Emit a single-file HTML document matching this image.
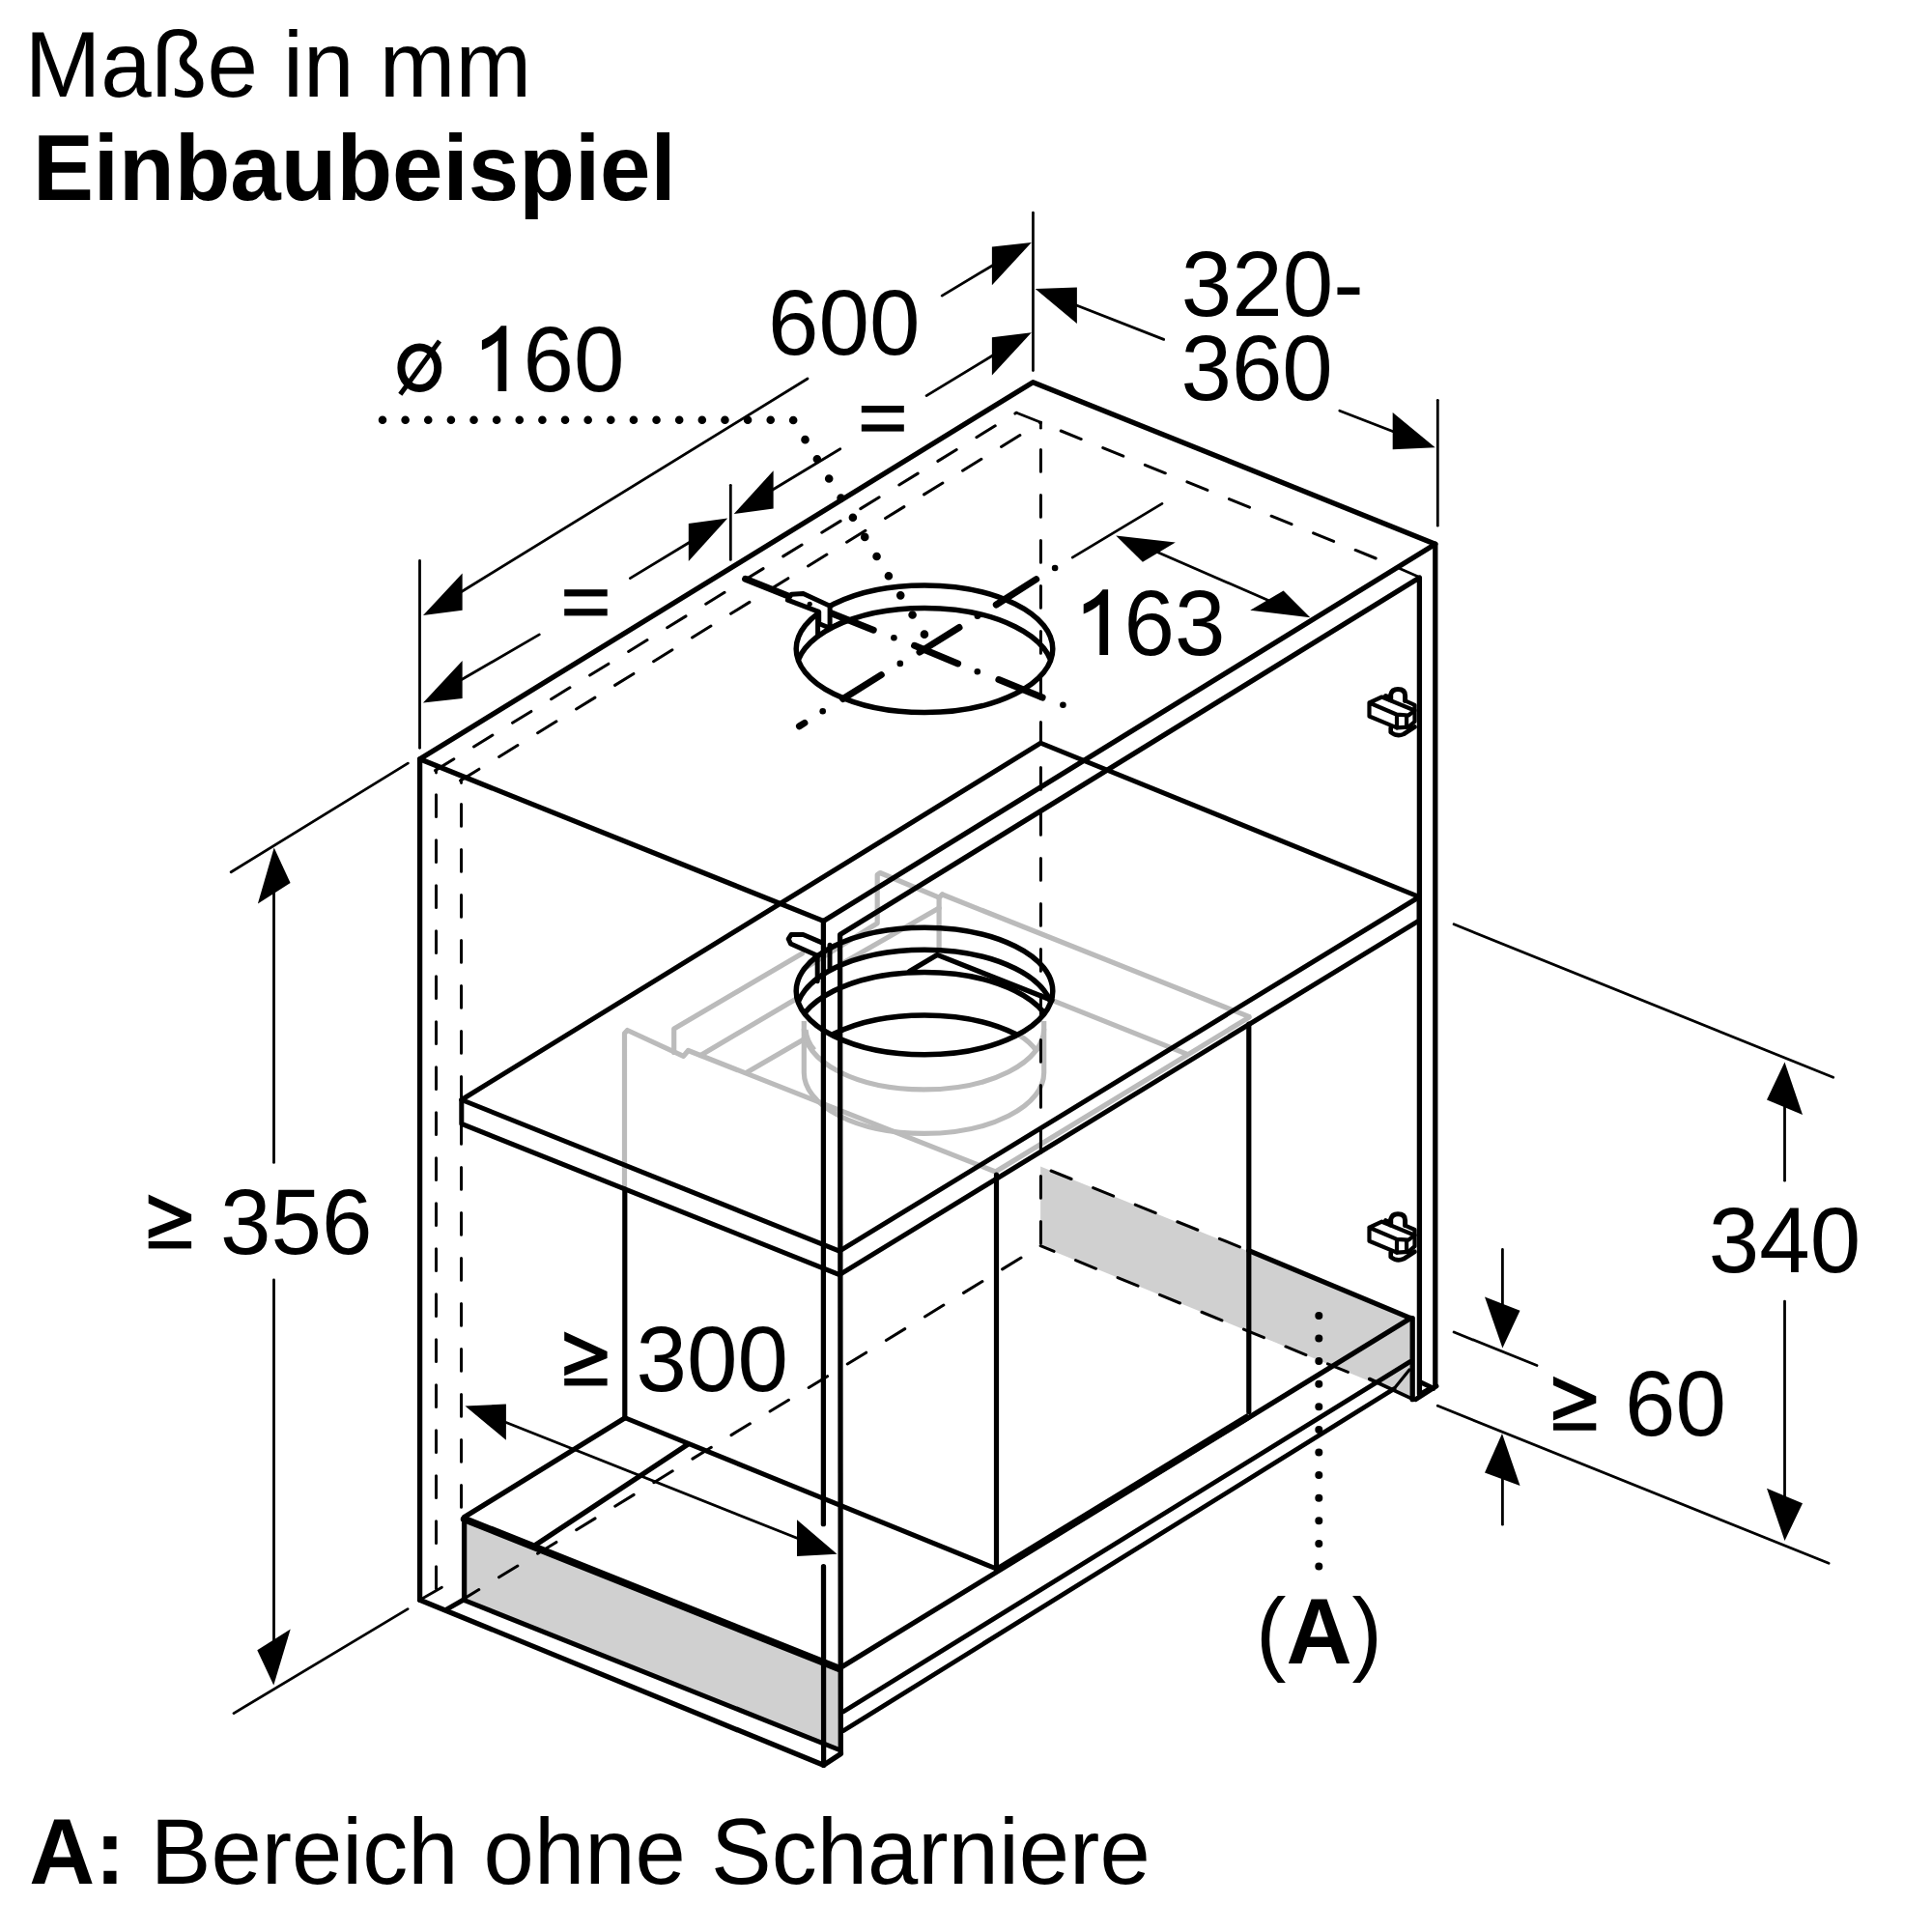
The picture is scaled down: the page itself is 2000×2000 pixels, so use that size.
<!DOCTYPE html>
<html><head><meta charset="utf-8"><title>Einbaubeispiel</title>
<style>html,body{margin:0;padding:0;background:#fff}svg{display:block}text{font-family:"Liberation Sans",sans-serif;fill:#000}</style>
</head><body>
<svg xmlns="http://www.w3.org/2000/svg" width="2000" height="2000" viewBox="0 0 2000 2000">
<rect width="2000" height="2000" fill="#fff"/>
<polygon points="480.6,1571 870,1727 870,1812 480.6,1656.5" fill="#d0d0d0"/>
<polygon points="1077.1,1207.4 1462,1364.6 1462,1448 1077.1,1289.7" fill="#d0d0d0"/>
<path d="M646.5,1229.0 L646.5,1069.8 L649.5,1066.5 L707.5,1093.4 L712.4,1087.5 L1030.5,1213.0" fill="none" stroke="#bbbbbb" stroke-width="5.2" stroke-linejoin="round" stroke-linecap="round"/>
<path d="M697.7,1089.5 L697.7,1064.9 L830.5,987.0" fill="none" stroke="#bbbbbb" stroke-width="5.2" stroke-linejoin="round" stroke-linecap="round"/>
<line x1="725.2" y1="1092.4" x2="828.5" y2="1031.5" stroke="#bbbbbb" stroke-width="5.2" stroke-linecap="round"/>
<line x1="773.4" y1="1110.1" x2="832.0" y2="1076.0" stroke="#bbbbbb" stroke-width="5.2" stroke-linecap="round"/>
<path d="M832.0,1003.0 L908.2,955.7 L908.2,905.6 L911.0,903.5 L972.1,929.2 L975.5,926.0" fill="none" stroke="#bbbbbb" stroke-width="5.2" stroke-linejoin="round" stroke-linecap="round"/>
<line x1="972.1" y1="929.2" x2="972.1" y2="982.3" stroke="#bbbbbb" stroke-width="5.2" stroke-linecap="round"/>
<line x1="972.1" y1="940.0" x2="862.0" y2="1003.0" stroke="#bbbbbb" stroke-width="5.2" stroke-linecap="round"/>
<line x1="975.5" y1="926.0" x2="1292.8" y2="1052.4" stroke="#bbbbbb" stroke-width="5.2" stroke-linecap="round"/>
<line x1="1293.1" y1="1053.1" x2="1030.5" y2="1213.0" stroke="#bbbbbb" stroke-width="5.2" stroke-linecap="round"/>
<line x1="1091.5" y1="1036.4" x2="1229.1" y2="1091.4" stroke="#bbbbbb" stroke-width="5.2" stroke-linecap="round"/>
<path d="M832.3,1057 L832.3,1110.5 A124.2,63 0 0 0 1080.7,1110.5 L1080.7,1057" fill="none" stroke="#bbbbbb" stroke-width="5.2"/>
<path d="M832.3,1065 A124.2,63 0 0 0 1080.7,1065" fill="none" stroke="#bbbbbb" stroke-width="5.2"/>
<path d="M1054,1071 Q1066,1078 1074,1089" fill="none" stroke="#bbbbbb" stroke-width="5.2"/>
<path d="M843,1087 Q835,1078 834,1066" fill="none" stroke="#bbbbbb" stroke-width="5.2"/>
<line x1="450.5" y1="797.6" x2="1052.2" y2="427.3" stroke="#000" stroke-width="3.0" stroke-linecap="round" stroke-dasharray="22.7 24.3" stroke-dashoffset="0"/>
<line x1="476.6" y1="808.1" x2="1077.4" y2="437.3" stroke="#000" stroke-width="3.0" stroke-linecap="round" stroke-dasharray="22.7 24.3" stroke-dashoffset="0"/>
<line x1="451.5" y1="822.7" x2="451.5" y2="1650.0" stroke="#000" stroke-width="3.0" stroke-linecap="round" stroke-dasharray="22.7 24.3" stroke-dashoffset="0"/>
<line x1="451.5" y1="797.0" x2="451.5" y2="800.0" stroke="#000" stroke-width="2.8" stroke-linecap="round"/>
<line x1="477.5" y1="832.6" x2="477.5" y2="1569.0" stroke="#000" stroke-width="3.0" stroke-linecap="round" stroke-dasharray="22.7 24.3" stroke-dashoffset="0"/>
<line x1="477.5" y1="807.5" x2="477.5" y2="810.6" stroke="#000" stroke-width="2.8" stroke-linecap="round"/>
<line x1="1052.2" y1="427.3" x2="1077.4" y2="437.3" stroke="#000" stroke-width="2.8" stroke-linecap="round"/>
<line x1="1098.2" y1="446.0" x2="1426.9" y2="579.1" stroke="#000" stroke-width="3.0" stroke-linecap="round" stroke-dasharray="22.7 24.3" stroke-dashoffset="0"/>
<line x1="1077.4" y1="437.3" x2="1077.4" y2="443.2" stroke="#000" stroke-width="2.8" stroke-linecap="round"/>
<line x1="1077.4" y1="465.5" x2="1077.4" y2="769.0" stroke="#000" stroke-width="3.0" stroke-linecap="round" stroke-dasharray="22.7 24.3" stroke-dashoffset="0"/>
<line x1="1077.4" y1="794.5" x2="1077.4" y2="1289.7" stroke="#000" stroke-width="3.0" stroke-linecap="round" stroke-dasharray="22.7 24.3" stroke-dashoffset="0"/>
<line x1="461.3" y1="1666.6" x2="1077.1" y2="1289.7" stroke="#000" stroke-width="3.0" stroke-linecap="round" stroke-dasharray="22.7 24.3" stroke-dashoffset="29.3"/>
<line x1="1077.1" y1="1207.6" x2="1292.8" y2="1294.6" stroke="#000" stroke-width="3.0" stroke-linecap="round" stroke-dasharray="22.7 24.3" stroke-dashoffset="35.2"/>
<line x1="1077.1" y1="1289.7" x2="1417.7" y2="1429.6" stroke="#000" stroke-width="3.0" stroke-linecap="round" stroke-dasharray="22.7 24.3" stroke-dashoffset="7.6"/>
<line x1="1417.7" y1="1427.5" x2="1463.0" y2="1448.7" stroke="#000" stroke-width="3.5999999999999996" stroke-linecap="round"/>
<path d="M434.6,785.8 L1069.3,395.7 L1485.8,563.2 L852.4,953.4 Z" fill="none" stroke="#000" stroke-width="5.3" stroke-linejoin="round" stroke-linecap="round"/>
<line x1="434.6" y1="785.8" x2="434.6" y2="1656.2" stroke="#000" stroke-width="5.3" stroke-linecap="round"/>
<line x1="434.6" y1="1656.2" x2="852.6" y2="1827.3" stroke="#000" stroke-width="5.3" stroke-linecap="round"/>
<line x1="1485.8" y1="563.2" x2="1485.8" y2="1434.9" stroke="#000" stroke-width="5.3" stroke-linecap="round"/>
<line x1="852.4" y1="953.4" x2="852.4" y2="1577.7" stroke="#000" stroke-width="5.3" stroke-linecap="round"/>
<line x1="852.5" y1="1621.7" x2="852.6" y2="1827.3" stroke="#000" stroke-width="5.3" stroke-linecap="round"/>
<path d="M852.6,1827.3 L870.5,1815.5 L870.3,1812.0 L869.6,967.5 L1469.4,598.0 L1469.4,1442.9" fill="none" stroke="#000" stroke-width="5.3" stroke-linejoin="round" stroke-linecap="round"/>
<line x1="1448.9" y1="588.5" x2="1469.4" y2="597.5" stroke="#000" stroke-width="2.8" stroke-linecap="round"/>
<path d="M477.8,1138.5 L1077.4,769.2 L1469.2,928.5 L869.0,1295.1 L477.8,1138.5 Z" fill="none" stroke="#000" stroke-width="5.0" stroke-linejoin="round" stroke-linecap="round"/>
<path d="M477.8,1138.5 L477.8,1163.4 L869.0,1319.6 L1469.2,952.8 L1469.2,928.5" fill="none" stroke="#000" stroke-width="5.0" stroke-linejoin="round" stroke-linecap="round"/>
<line x1="646.8" y1="1231.0" x2="646.8" y2="1467.8" stroke="#000" stroke-width="5.2" stroke-linecap="round"/>
<line x1="1031.5" y1="1216.0" x2="1031.5" y2="1624.3" stroke="#000" stroke-width="5.2" stroke-linecap="round"/>
<line x1="1292.8" y1="1060.2" x2="1292.8" y2="1461.5" stroke="#000" stroke-width="5.2" stroke-linecap="round"/>
<line x1="647.1" y1="1467.8" x2="1032.1" y2="1624.3" stroke="#000" stroke-width="5.0" stroke-linecap="round"/>
<line x1="480.6" y1="1570.5" x2="647.1" y2="1467.8" stroke="#000" stroke-width="5.3" stroke-linecap="round"/>
<line x1="554.5" y1="1599.3" x2="712.3" y2="1495.0" stroke="#000" stroke-width="5.3" stroke-linecap="round"/>
<line x1="480.6" y1="1572.5" x2="869.0" y2="1727.5" stroke="#000" stroke-width="7.6" stroke-linecap="round"/>
<line x1="480.6" y1="1571.0" x2="480.6" y2="1656.5" stroke="#000" stroke-width="5.3" stroke-linecap="round"/>
<line x1="480.6" y1="1656.5" x2="869.0" y2="1811.5" stroke="#000" stroke-width="5.0" stroke-linecap="round"/>
<line x1="434.6" y1="1656.2" x2="457.4" y2="1643.3" stroke="#000" stroke-width="2.8" stroke-linecap="round"/>
<line x1="461.3" y1="1666.6" x2="480.0" y2="1656.0" stroke="#000" stroke-width="5.0" stroke-linecap="round"/>
<line x1="871.6" y1="1725.5" x2="1460.4" y2="1364.6" stroke="#000" stroke-width="5.3" stroke-linecap="round"/>
<line x1="1031.5" y1="1625.5" x2="1292.8" y2="1466.0" stroke="#000" stroke-width="7.0" stroke-linecap="butt"/>
<line x1="872.9" y1="1772.0" x2="1459.7" y2="1409.6" stroke="#000" stroke-width="4.8" stroke-linecap="round"/>
<line x1="872.9" y1="1791.8" x2="1443.0" y2="1437.8" stroke="#000" stroke-width="4.8" stroke-linecap="round"/>
<line x1="1459.0" y1="1418.0" x2="1443.0" y2="1437.8" stroke="#000" stroke-width="3.2" stroke-linecap="round"/>
<line x1="1292.8" y1="1294.6" x2="1460.4" y2="1364.6" stroke="#000" stroke-width="5.3" stroke-linecap="round"/>
<line x1="1462.2" y1="1364.6" x2="1462.2" y2="1448.7" stroke="#000" stroke-width="5.3" stroke-linecap="round"/>
<path d="M1486.9,1434.9 L1465.5,1448.7" fill="none" stroke="#000" stroke-width="5.0" stroke-linejoin="round" stroke-linecap="round"/>
<path d="M1469.8,1430.6 L1484.0,1437.3" fill="none" stroke="#000" stroke-width="5.0" stroke-linejoin="round" stroke-linecap="round"/>
<path d="M1472.0,1441.0 L1479.0,1437.0" fill="none" stroke="#000" stroke-width="3" stroke-linejoin="round" stroke-linecap="round"/>
<clipPath id="c1"><ellipse cx="957.0" cy="671.8" rx="132.8" ry="65.8"/></clipPath>
<ellipse cx="957.0" cy="695.1999999999999" rx="132.8" ry="65.8" fill="none" stroke="#000" stroke-width="5.5" clip-path="url(#c1)"/>
<ellipse cx="957.0" cy="671.8" rx="132.8" ry="65.8" fill="none" stroke="#000" stroke-width="5.5"/>
<clipPath id="c2"><ellipse cx="957.0" cy="1026.0" rx="132.8" ry="65.8"/></clipPath>
<ellipse cx="957.0" cy="1049.1" rx="132.8" ry="65.8" fill="none" stroke="#000" stroke-width="5.5" clip-path="url(#c2)"/>
<ellipse cx="957.0" cy="1072.3" rx="132.8" ry="65.8" fill="none" stroke="#000" stroke-width="5.5" clip-path="url(#c2)"/>
<ellipse cx="957.0" cy="1116.8" rx="132.8" ry="65.8" fill="none" stroke="#000" stroke-width="5.5" clip-path="url(#c2)"/>
<ellipse cx="957.0" cy="1026.0" rx="132.8" ry="65.8" fill="none" stroke="#000" stroke-width="5.5"/>
<path d="M941.5,1005.5 L970.1,988.4 L1089.0,1035.5" fill="none" stroke="#000" stroke-width="5.3" stroke-linejoin="round" stroke-linecap="round"/>
<line x1="771.6" y1="599.3" x2="904.2" y2="652.2" stroke="#000" stroke-width="7.0" stroke-linecap="round"/>
<circle cx="925.4" cy="660.3" r="3.3" fill="#000"/>
<line x1="946.6" y1="668.3" x2="991.6" y2="686.9" stroke="#000" stroke-width="7.0" stroke-linecap="round"/>
<circle cx="1011.8" cy="695.2" r="3.3" fill="#000"/>
<line x1="1033.9" y1="703.5" x2="1079.1" y2="722.1" stroke="#000" stroke-width="7.0" stroke-linecap="round"/>
<circle cx="1100.4" cy="729.8" r="3.3" fill="#000"/>
<circle cx="1092.1" cy="588.0" r="3.3" fill="#000"/>
<line x1="1072.7" y1="599.6" x2="1031.3" y2="626.0" stroke="#000" stroke-width="7.0" stroke-linecap="round"/>
<circle cx="1011.9" cy="637.7" r="3.3" fill="#000"/>
<line x1="993.0" y1="649.5" x2="952.0" y2="675.1" stroke="#000" stroke-width="7.0" stroke-linecap="round"/>
<circle cx="931.8" cy="686.9" r="3.3" fill="#000"/>
<line x1="912.3" y1="698.6" x2="872.6" y2="723.5" stroke="#000" stroke-width="7.0" stroke-linecap="round"/>
<circle cx="851.7" cy="736.3" r="3.3" fill="#000"/>
<line x1="832.9" y1="748.4" x2="827.5" y2="751.8" stroke="#000" stroke-width="7.0" stroke-linecap="round"/>
<path d="M815.4,621.2 L819.4,615.2 L831.5,614.5 L859.1,627.3 L859.1,650.2 L847.7,645.5 L847.7,633.3 Z" fill="#fff" stroke="#000" stroke-width="5.0" stroke-linejoin="round" stroke-linecap="round"/>
<circle cx="838.2" cy="625.3" r="2.6" fill="#000"/>
<path d="M859.1,650.2 L877.0,641.5" fill="none" stroke="#000" stroke-width="5.0" stroke-linejoin="round" stroke-linecap="round"/>
<path d="M846.6,634.0 L846.6,658.5" fill="none" stroke="#000" stroke-width="5.0" stroke-linejoin="round" stroke-linecap="round"/>
<path d="M852.1,976.4 L831.4,967.5 L819.0,967.5 L816.2,972.0 L818.5,977.0 L846.2,989.2 L846.2,1015.7" fill="none" stroke="#000" stroke-width="5.0" stroke-linejoin="round" stroke-linecap="round"/>
<path d="M859.0,978.3 L859.0,1002.0" fill="none" stroke="#000" stroke-width="5.0" stroke-linejoin="round" stroke-linecap="round"/>
<line x1="1069.4" y1="220.2" x2="1069.4" y2="383.5" stroke="#000" stroke-width="2.8" stroke-linecap="round"/>
<polygon points="1067.8,251.0 1026.9,255.6 1026.9,295.2" fill="#000"/>
<line x1="975.2" y1="306.1" x2="1028.0" y2="274.5" stroke="#000" stroke-width="2.8" stroke-linecap="round"/>
<line x1="836.0" y1="392.0" x2="477.0" y2="613.0" stroke="#000" stroke-width="2.8" stroke-linecap="round"/>
<polygon points="438.0,636.9 478.6,593.4 478.6,631.7" fill="#000"/>
<polygon points="1067.8,344.2 1026.9,349.3 1026.9,388.4" fill="#000"/>
<line x1="959.1" y1="409.6" x2="1028.0" y2="367.8" stroke="#000" stroke-width="2.8" stroke-linecap="round"/>
<line x1="869.8" y1="464.8" x2="799.0" y2="507.5" stroke="#000" stroke-width="2.8" stroke-linecap="round"/>
<polygon points="759.7,532.0 800.6,487.3 800.6,526.6" fill="#000"/>
<polygon points="753.2,536.4 712.8,542.1 712.8,581.0" fill="#000"/>
<line x1="652.3" y1="598.6" x2="714.0" y2="561.3" stroke="#000" stroke-width="2.8" stroke-linecap="round"/>
<line x1="558.3" y1="656.9" x2="477.0" y2="704.0" stroke="#000" stroke-width="2.8" stroke-linecap="round"/>
<polygon points="438.0,727.6 478.6,684.1 478.6,722.9" fill="#000"/>
<line x1="756.3" y1="502.3" x2="756.3" y2="579.4" stroke="#000" stroke-width="2.8" stroke-linecap="round"/>
<line x1="434.5" y1="580.4" x2="434.5" y2="774.3" stroke="#000" stroke-width="2.8" stroke-linecap="round"/>
<polygon points="1071.7,298.9 1114.9,297.6 1114.9,335.1" fill="#000"/>
<line x1="1113.0" y1="315.5" x2="1204.7" y2="351.4" stroke="#000" stroke-width="2.8" stroke-linecap="round"/>
<line x1="1386.8" y1="425.2" x2="1443.0" y2="447.0" stroke="#000" stroke-width="2.8" stroke-linecap="round"/>
<polygon points="1485.7,463.2 1441.7,427.0 1441.7,465.3" fill="#000"/>
<line x1="1488.3" y1="414.3" x2="1488.3" y2="544.2" stroke="#000" stroke-width="2.8" stroke-linecap="round"/>
<line x1="1203.0" y1="521.4" x2="1110.2" y2="577.1" stroke="#000" stroke-width="2.8" stroke-linecap="round"/>
<polygon points="1155.2,554.6 1216.8,561.5 1182.9,581.7" fill="#000"/>
<polygon points="1356.3,639.2 1328.6,611.5 1294.2,631.7" fill="#000"/>
<line x1="1198.0" y1="571.5" x2="1313.0" y2="621.5" stroke="#000" stroke-width="2.8" stroke-linecap="round"/>
<line x1="239.2" y1="902.7" x2="422.3" y2="790.1" stroke="#000" stroke-width="2.8" stroke-linecap="round"/>
<line x1="242.0" y1="1773.6" x2="422.1" y2="1665.6" stroke="#000" stroke-width="2.8" stroke-linecap="round"/>
<polygon points="283.7,877.6 266.9,935.4 300.6,913.9" fill="#000"/>
<line x1="283.5" y1="922.0" x2="283.5" y2="1203.4" stroke="#000" stroke-width="2.8" stroke-linecap="round"/>
<line x1="283.5" y1="1325.0" x2="283.5" y2="1700.0" stroke="#000" stroke-width="2.8" stroke-linecap="round"/>
<polygon points="283.3,1744.6 266.3,1708.3 300.7,1686.6" fill="#000"/>
<polygon points="481.5,1455.5 523.9,1453.5 523.9,1490.7" fill="#000"/>
<polygon points="866.5,1608.8 825.0,1573.3 825.0,1610.9" fill="#000"/>
<line x1="522.0" y1="1471.7" x2="827.0" y2="1593.0" stroke="#000" stroke-width="2.8" stroke-linecap="round"/>
<line x1="1505.1" y1="956.8" x2="1897.7" y2="1115.3" stroke="#000" stroke-width="2.8" stroke-linecap="round"/>
<line x1="1488.3" y1="1455.3" x2="1893.1" y2="1618.3" stroke="#000" stroke-width="2.8" stroke-linecap="round"/>
<polygon points="1847.5,1099.5 1829.0,1138.6 1866.0,1154.0" fill="#000"/>
<line x1="1847.5" y1="1145.0" x2="1847.5" y2="1222.2" stroke="#000" stroke-width="2.8" stroke-linecap="round"/>
<line x1="1847.5" y1="1347.1" x2="1847.5" y2="1550.0" stroke="#000" stroke-width="2.8" stroke-linecap="round"/>
<polygon points="1847.5,1595.0 1829.0,1540.7 1866.0,1556.2" fill="#000"/>
<line x1="1505.1" y1="1379.0" x2="1591.0" y2="1413.5" stroke="#000" stroke-width="2.8" stroke-linecap="round"/>
<line x1="1555.4" y1="1293.4" x2="1555.4" y2="1350.0" stroke="#000" stroke-width="2.8" stroke-linecap="round"/>
<polygon points="1555.4,1395.6 1537.0,1342.5 1573.5,1356.8" fill="#000"/>
<polygon points="1555.0,1484.0 1537.0,1524.6 1573.5,1538.0" fill="#000"/>
<line x1="1555.4" y1="1530.0" x2="1555.4" y2="1578.2" stroke="#000" stroke-width="2.8" stroke-linecap="round"/>
<path d="M396,434.7 L821,434.7 L957.2,657.1" fill="none" stroke="#000" stroke-width="8.6" stroke-linecap="round" stroke-dasharray="0 23.63"/>
<path d="M1365.3,1361.9 L1365.3,1622" fill="none" stroke="#000" stroke-width="8" stroke-linecap="round" stroke-dasharray="0 23.6"/>
<path d="M1417.5,727.5 L1430.5,721.5 L1464.5,735.5 L1458.0,740.5 L1446.0,739.7 L1417.5,727.5 L1417.5,741.5 L1446.0,753.4 L1446.0,739.7" fill="none" stroke="#000" stroke-width="4.2" stroke-linejoin="round" stroke-linecap="round"/>
<path d="M1446.0,753.4 L1458.0,752.7 L1464.5,747.0 L1464.5,729.8 L1454.6,725.4" fill="none" stroke="#000" stroke-width="4.2" stroke-linejoin="round" stroke-linecap="round"/>
<path d="M1456.1,741.5 L1456.1,752.7" fill="none" stroke="#000" stroke-width="4.2" stroke-linejoin="round" stroke-linecap="round"/>
<path d="M1439.7,724.8 L1439.7,719.0 Q1441.0,713.5 1447.0,713.5 Q1454.6,713.5 1454.6,720.0 L1454.6,725.4" fill="none" stroke="#000" stroke-width="5" stroke-linecap="round"/>
<path d="M1434.5,720.5 L1439.5,722.5" fill="none" stroke="#000" stroke-width="5" stroke-linejoin="round" stroke-linecap="round"/>
<path d="M1439.7,753.4 L1439.7,758.0 Q1446.0,763.0 1453.0,760.0 L1464.5,752.5" fill="none" stroke="#000" stroke-width="4.6" stroke-linecap="round" stroke-linejoin="round"/>
<path d="M1417.5,1270.7 L1430.5,1264.7 L1464.5,1278.7 L1458.0,1283.7 L1446.0,1282.9 L1417.5,1270.7 L1417.5,1284.7 L1446.0,1296.6 L1446.0,1282.9" fill="none" stroke="#000" stroke-width="4.2" stroke-linejoin="round" stroke-linecap="round"/>
<path d="M1446.0,1296.6 L1458.0,1295.9 L1464.5,1290.2 L1464.5,1273.0 L1454.6,1268.6" fill="none" stroke="#000" stroke-width="4.2" stroke-linejoin="round" stroke-linecap="round"/>
<path d="M1456.1,1284.7 L1456.1,1295.9" fill="none" stroke="#000" stroke-width="4.2" stroke-linejoin="round" stroke-linecap="round"/>
<path d="M1439.7,1268.0 L1439.7,1262.2 Q1441.0,1256.7 1447.0,1256.7 Q1454.6,1256.7 1454.6,1263.2 L1454.6,1268.6" fill="none" stroke="#000" stroke-width="5" stroke-linecap="round"/>
<path d="M1434.5,1263.7 L1439.5,1265.7" fill="none" stroke="#000" stroke-width="5" stroke-linejoin="round" stroke-linecap="round"/>
<path d="M1439.7,1296.6 L1439.7,1301.2 Q1446.0,1306.2 1453.0,1303.2 L1464.5,1295.7" fill="none" stroke="#000" stroke-width="4.6" stroke-linecap="round" stroke-linejoin="round"/>
<text transform="translate(25.7,100.4) scale(1.004,1.035)" font-size="94" text-anchor="start">Maße in mm</text>
<text transform="translate(33.9,207.3) scale(1.004,1.035)" font-size="94" font-weight="bold" text-anchor="start">Einbaubeispiel</text>
<ellipse cx="434.3" cy="380.8" rx="18.9" ry="21.3" fill="none" stroke="#000" stroke-width="8"/><line x1="414.3" y1="408.2" x2="455" y2="353" stroke="#000" stroke-width="5"/>
<path d="M524.3,404.9 L515.5,404.9 L515.5,352.6 Q507.9,359.1 498.9,362.3 L498.9,352.3 Q512.4,346.4 518.8,337.2 L524.3,337.2 Z" fill="#000"/>
<text transform="translate(541.4,404.9) scale(1.004,1.035)" font-size="94" text-anchor="start">60</text>
<text transform="translate(795.0,366.5) scale(1.004,1.035)" font-size="94" text-anchor="start">600</text>
<text transform="translate(1222.8,327.4) scale(1.004,1.035)" font-size="94" text-anchor="start">320-</text>
<text transform="translate(1222.4,413.8) scale(1.004,1.035)" font-size="94" text-anchor="start">360</text>
<path d="M1147.1,678.0 L1138.3,678.0 L1138.3,625.7 Q1130.7,632.2 1121.7,635.4 L1121.7,625.4 Q1135.2,619.5 1141.6,610.3 L1147.1,610.3 Z" fill="#000"/>
<text transform="translate(1163.4,678.0) scale(1.004,1.035)" font-size="94" text-anchor="start">63</text>
<rect x="891.8" y="420" width="44" height="7.2" fill="#000"/><rect x="891.8" y="439.4" width="44" height="7.2" fill="#000"/>
<rect x="584.2" y="610.2" width="44.5" height="7.2" fill="#000"/><rect x="584.2" y="630.2" width="44.5" height="7.2" fill="#000"/>
<path d="M153.7,1236.5 L198.1,1257.0 L198.1,1264.1 L153.7,1282.3 L153.7,1273.1 L186.4,1260.5 L153.7,1245.7 Z" fill="#000"/><rect x="153.7" y="1285.0" width="44.4" height="7.4" fill="#000"/>
<text transform="translate(228.1,1297.5) scale(1.004,1.035)" font-size="94" text-anchor="start">356</text>
<path d="M584.2,1378.5 L628.6,1399.0 L628.6,1406.1 L584.2,1424.3 L584.2,1415.1 L616.9,1402.5 L584.2,1387.7 Z" fill="#000"/><rect x="584.2" y="1427.0" width="44.4" height="7.4" fill="#000"/>
<text transform="translate(658.5,1439.5) scale(1.004,1.035)" font-size="94" text-anchor="start">300</text>
<path d="M1607.9,1424.8 L1652.3,1445.3 L1652.3,1452.4 L1607.9,1470.6 L1607.9,1461.4 L1640.6,1448.8 L1607.9,1434.0 Z" fill="#000"/><rect x="1607.9" y="1473.3" width="44.4" height="7.4" fill="#000"/>
<text transform="translate(1682.0,1485.8) scale(1.004,1.035)" font-size="94" text-anchor="start">60</text>
<text transform="translate(1768.7,1317.0) scale(1.004,1.035)" font-size="94" text-anchor="start">340</text>
<text transform="translate(1300,1722) scale(1.004,1.035)" font-size="94">(<tspan font-weight="bold">A</tspan>)</text>
<text transform="translate(30.3,1950) scale(1.0005,1.035)" font-size="94"><tspan font-weight="bold">A:</tspan> Bereich ohne Scharniere</text>
</svg>
</body></html>
